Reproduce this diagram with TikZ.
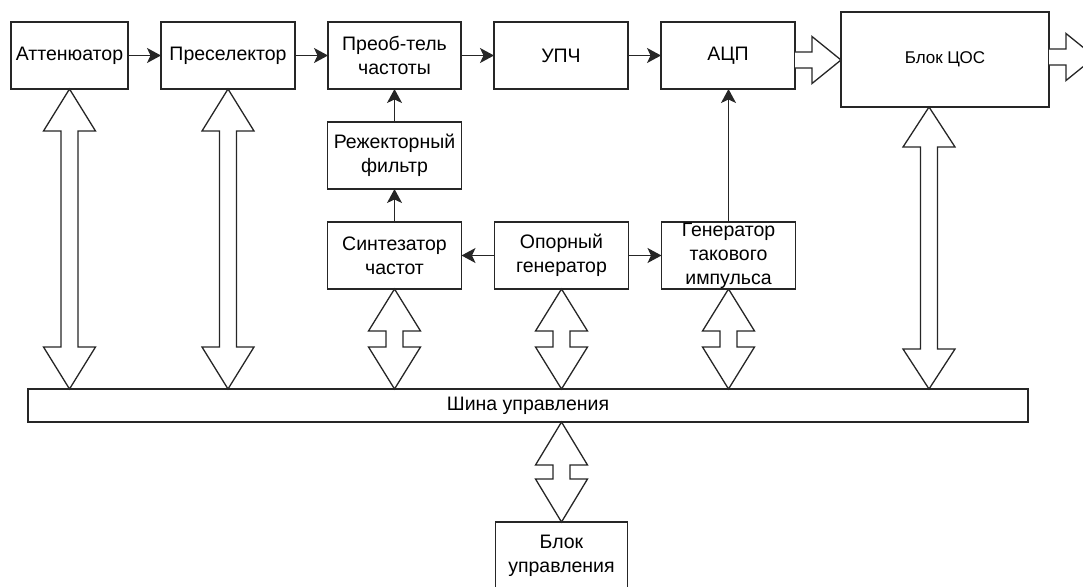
\documentclass[tikz,border=0pt]{standalone}
\usepackage{fontspec}
\setmainfont{Liberation Sans}
\usetikzlibrary{arrows.meta, positioning, calc}

% hollow double arrow between two points on one vertical
\newcommand{\busarrow}[3]{%
  \draw[hollow] let \p1=(#1), \p2=(#2) in
    (\p1) -- (\x1+26pt,\y1-#3) -- (\x1+8.5pt,\y1-#3) -- (\x1+8.5pt,\y2+#3)
    -- (\x1+26pt,\y2+#3) -- (\x1,\y2) -- (\x1-26pt,\y2+#3) -- (\x1-8.5pt,\y2+#3)
    -- (\x1-8.5pt,\y1-#3) -- (\x1-26pt,\y1-#3) -- cycle;}
% hollow single arrow to the right
\newcommand{\outarrow}[2]{%
  \draw[hollow] let \p1=(#1), \p2=(#2) in
    (\x1,\y1+8pt) -- (\x2-29pt,\y1+8pt) -- (\x2-29pt,\y1+23.5pt) -- (\x2,\y1)
    -- (\x2-29pt,\y1-23.5pt) -- (\x2-29pt,\y1-8pt) -- (\x1,\y1-8pt);}

\begin{document}
\begin{tikzpicture}[
                x=1pt, y=-1pt,
                node distance=33pt,
                box/.style={draw=black!85, line width=1.3pt, rectangle, minimum width=134pt, minimum height=67pt, inner sep=0pt, outer sep=0pt, align=center, font=\fontsize{19.5pt}{24pt}\selectfont},
                arrow/.style={-{Stealth[length=14pt, width=15pt, inset=3.5pt]}, line width=1.3pt, draw=black!85},
                hollow/.style={draw=black!85, line width=1.3pt, fill=white, line join=miter}
            ]
\useasboundingbox (0,0) rectangle (1083,586);

\node[box, minimum width=117pt] (att) at (69.5,55.5) {Аттенюатор};
            \node[box, right=of att] (presel) {Преселектор};
            \node[box, right=of presel, minimum width=133pt] (conv) {Преоб-тель\\частоты};
            \node[box, right=of conv] (ifamp) {УПЧ};
            \node[box, right=of ifamp] (adc) {АЦП};
            \node[box, right=46pt of adc, yshift=-4pt, minimum width=208pt, minimum height=95pt, font=\fontsize{17pt}{20pt}\selectfont] (dsp) {Блок ЦОС};

\node[box, below=of conv] (notch) {Режекторный\\фильтр};
            \node[box, below=of notch] (synth) {Синтезатор\\частот};
            \node[box, right=of synth] (refgen) {Опорный\\генератор};
            \node[box, right=of refgen] (clkgen) {Генератор\\такового\\импульса};

\node[box, minimum width=1000pt, minimum height=33pt] (bus) at (528,405.5) {Шина управления};
            \coordinate (ctrltop) at (refgen |- bus.south);
            \node[box, minimum width=132pt, below=100pt of ctrltop] (ctrl) {Блок\\управления};

\draw[arrow] (att) -- (presel);
            \draw[arrow] (presel) -- (conv);
            \draw[arrow] (conv) -- (ifamp);
            \draw[arrow] (ifamp) -- (adc);
            \draw[arrow] (notch) -- (conv);
            \draw[arrow] (synth) -- (notch);
            \draw[arrow] (refgen) -- (synth);
            \draw[arrow] (refgen) -- (clkgen);
            \draw[arrow] (clkgen.north) -- (clkgen.north |- adc.south);

\outarrow{[yshift=-4.5pt]adc.east}{dsp.west}
            \coordinate (dspout) at ([xshift=46pt, yshift=2.5pt]dsp.east);
            \outarrow{[yshift=2.5pt]dsp.east}{dspout}

\busarrow{att.south}{att.south |- bus.north}{42pt}
            \busarrow{presel.south}{presel.south |- bus.north}{42pt}
            \busarrow{synth.south}{synth.south |- bus.north}{42pt}
            \busarrow{refgen.south}{refgen.south |- bus.north}{42pt}
            \busarrow{clkgen.south}{clkgen.south |- bus.north}{42pt}
            \busarrow{[xshift=-16pt]dsp.south}{[xshift=-16pt]dsp.south |- bus.north}{40pt}
            \busarrow{ctrltop}{ctrl.north}{43pt}

            \end{tikzpicture}
\end{document}
